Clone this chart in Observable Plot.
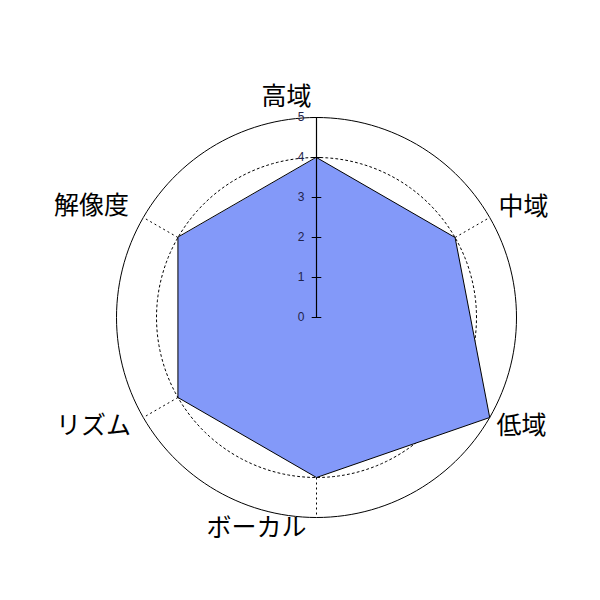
<!DOCTYPE html>
<html><head><meta charset="utf-8">
<script src="https://cdn.jsdelivr.net/npm/d3@7"></script>
<script src="https://cdn.jsdelivr.net/npm/@observablehq/plot@0.6"></script>
<style>html,body{margin:0;padding:0;background:#fff}</style>
</head><body><div id="chart"></div>
<script>
const categories = ["高域", "中域", "低域", "ボーカル", "リズム", "解像度"];
const values = [4, 4, 5, 4, 4, 4];
const tickValues = [0, 1, 2, 3, 4, 5];
const maxValue = 5;

// angle of each category (clockwise from top)
const ang = i => Math.PI / 2 - i * 2 * Math.PI / categories.length;
const polar = (r, a) => ({x: r * Math.cos(a), y: r * Math.sin(a)});

const poly = categories.map((c, i) => ({cat: c, ...polar(values[i], ang(i))}));
const spokes = categories.map((c, i) => ({cat: c, ...polar(maxValue, ang(i))}));
const circle = r => d3.range(0, 361, 2).map(t => polar(r, t * Math.PI / 180));
// label nudges (px) to mimic reference placement
const nudge = {"高域": [-30, -5], "中域": [20, -3], "低域": [18, 0], "ボーカル": [-60, -6], "リズム": [-36, 0], "解像度": [-38, -4]};
const labels = categories.map((c, i) => ({cat: c, ...polar(5.4, ang(i)), dx: nudge[c][0], dy: nudge[c][1]}));

const font = "'Noto Sans CJK JP', sans-serif";
const chart = Plot.plot({
  width: 600, height: 600,
  margin: 0,
  x: {domain: [-316/40, 284/40], axis: null},
  y: {domain: [-283/40, 317/40], axis: null},
  style: {background: "#fff"},
  marks: [
    Plot.line(circle(4), {x: "x", y: "y", stroke: "black", strokeWidth: 1, strokeDasharray: "2,3"}),
    Plot.line(circle(5), {x: "x", y: "y", stroke: "black", strokeWidth: 1}),
    Plot.link(spokes, {x1: 0, y1: 0, x2: "x", y2: "y", stroke: "black", strokeWidth: 1, strokeDasharray: "2,3"}),
    Plot.line(poly, {x: "x", y: "y", fill: "#8399f9", stroke: "black", strokeWidth: 1, curve: "linear-closed"}),
    Plot.ruleX([0], {y1: 0, y2: maxValue, stroke: "black", strokeWidth: 1.2}),
    Plot.link(tickValues, {x1: -0.12, x2: 0.12, y1: d => d, y2: d => d, stroke: "black"}),
    Plot.text(tickValues, {x: 0, y: d => d, text: d => String(d), dx: -12, textAnchor: "end", fontSize: 12, fill: "#22224a", fontFamily: "Liberation Sans, Arial, sans-serif"}),
    ...labels.map(l => Plot.text([l], {x: "x", y: "y", text: "cat", dx: l.dx, dy: l.dy, fontSize: 25, letterSpacing: "1px", fill: "black", fontFamily: font}))
  ]
});
document.getElementById("chart").append(chart);
</script></body></html>
